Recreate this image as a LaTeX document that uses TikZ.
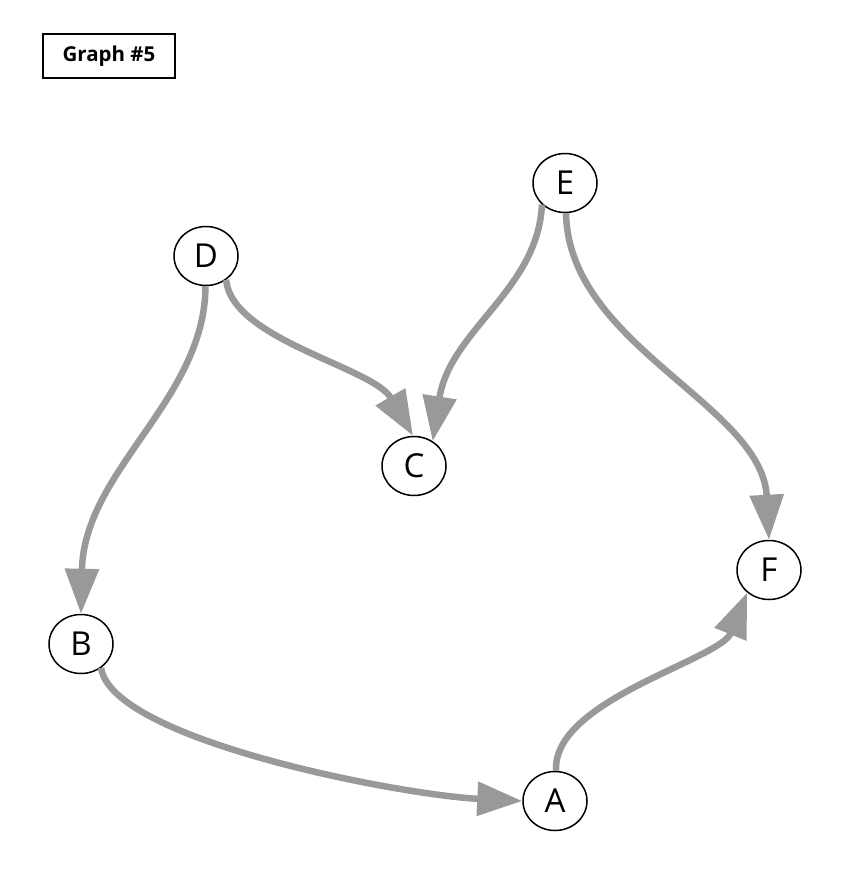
\documentclass[tikz,border=0pt]{standalone}
\usepackage{fontspec}
\setmainfont{Open Sans}
\usetikzlibrary{shapes.geometric,arrows.meta}
\definecolor{edgegray}{RGB}{153,153,153}
\tikzset{
  vertex/.style={ellipse, draw=black, line width=1.5pt, fill=white, minimum width=64pt, minimum height=59pt, inner sep=0pt, font=\fontsize{33}{33}\selectfont},
  edge/.style={draw=edgegray, line width=6.5pt, -{Triangle[length=45pt,width=33pt]}},
  titlebox/.style={draw=black, line width=1.5pt, minimum width=132pt, minimum height=44pt, inner sep=0pt, font=\fontsize{20.5}{20.5}\selectfont\bfseries}
}
\begin{document}
\begin{tikzpicture}[x=1pt,y=-1pt]
\useasboundingbox (0,0) rectangle (850,875);
\node[titlebox] (title) at (109,56) {Graph \#5};
\node[vertex] (D) at (206,256) {D};
\node[vertex] (B) at (81,644) {B};
\node[vertex] (C) at (414,466) {C};
\node[vertex] (E) at (565,183) {E};
\node[vertex] (F) at (769,570) {F};
\node[vertex] (A) at (555,801) {A};
\draw[edge] (D.-91) .. controls (205,400) and (84,470) .. (B.north);
\draw[edge] (D.-50) .. controls (232,340) and (373,367) .. (C.92);
\draw[edge] (E.-137) .. controls (538,290) and (450,330) .. (C.53);
\draw[edge] (E.-88) .. controls (568,345) and (762,405) .. (F.north);
\draw[edge] (B.-50) .. controls (112,740) and (400,795) .. (A.west);
\draw[edge] (A.88) .. controls (552,700) and (720,660) .. (F.-134);
\end{tikzpicture}
\end{document}
